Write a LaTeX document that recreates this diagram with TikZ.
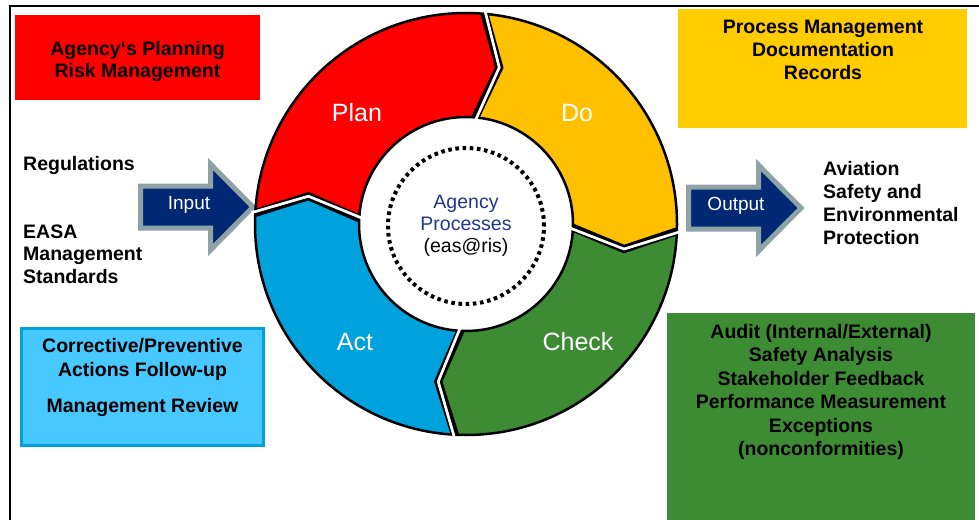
\documentclass[tikz,border=0pt]{standalone}
\usepackage{fontspec}
\setmainfont{Liberation Sans}
\usetikzlibrary{positioning}
\definecolor{planred}{RGB}{255,0,0}
\definecolor{doyellow}{RGB}{255,192,0}
\definecolor{checkgreen}{RGB}{61,139,51}
\definecolor{actblue}{RGB}{0,162,222}
\definecolor{boxyellow}{RGB}{255,204,0}
\definecolor{boxblue}{RGB}{71,200,255}
\definecolor{arrownavy}{RGB}{0,40,115}
\definecolor{arrowgrey}{RGB}{143,163,166}
\definecolor{procblue}{RGB}{31,56,140}

\tikzset{
  boldtxt/.style={font=\bfseries\fontsize{19.5}{23}\selectfont, align=center, inner sep=0pt},
  pdcatxt/.style={font=\fontsize{25}{30}\selectfont, text=white, inner sep=0pt},
  arrowtxt/.style={font=\fontsize{19}{22}\selectfont, text=white, inner sep=0pt},
  blockarrow/.style={fill=arrownavy, draw=arrowgrey, line width=5pt},
}

\begin{document}
\begin{tikzpicture}[x=1pt, y=-1pt]
  \useasboundingbox (0,0) rectangle (979,519);
  \clip (0,0) rectangle (979,519);

  % frame
  \draw[line width=2pt] (10,530) |- (990,6);

  % side boxes
  \fill[planred] (15,15) rectangle (260,100);
  \fill[boxyellow] (678,9) rectangle (967,128);
  \draw[actblue, fill=boxblue, line width=3pt] (21.5,328.5) rectangle (263.5,445.5);
  \fill[checkgreen] (667,313) rectangle (975,530);

  \node[boldtxt, font=\bfseries\fontsize{19.5}{22}\selectfont] (risk) at (137.5,62) {Agency‘s Planning\\Risk Management};
  \node[boldtxt] (procmgmt) at (823,50) {Process Management\\Documentation\\Records};
  \node[boldtxt, font=\bfseries\fontsize{19.5}{23.4}\selectfont] (audit) at (821,392)
    {Audit (Internal/External)\\Safety Analysis\\Stakeholder Feedback\\Performance Measurement\\Exceptions\\(nonconformities)};
  \node[boldtxt, font=\bfseries\fontsize{19.5}{24}\selectfont] (corrective) at (142.5,377)
    {Corrective/Preventive\\Actions Follow-up\\[12pt]Management Review};

  \node[boldtxt, anchor=west] (regs) at (23,165) {Regulations};
  \node[boldtxt, anchor=west, align=left, font=\bfseries\fontsize{19.5}{22.5}\selectfont] (easa) at (23,254)
    {EASA\\Management\\Standards};
  \node[boldtxt, anchor=west, align=left, font=\bfseries\fontsize{19.5}{23.3}\selectfont] (aviation) at (823,203)
    {Aviation\\Safety and\\Environmental\\Protection};

  % input / output arrows
  \draw[blockarrow] (140.5,186) -- (210.5,186) -- (210.5,164) -- (253,207)
    -- (210.5,250) -- (210.5,228) -- (140.5,228) -- cycle;
  \begin{scope}[shift={(548,1)}]
    \draw[blockarrow] (140.5,186) -- (210.5,186) -- (210.5,164) -- (253,207)
      -- (210.5,250) -- (210.5,228) -- (140.5,228) -- cycle;
  \end{scope}
  \node[arrowtxt] (input) at (189,205) {Input};
  \node[arrowtxt] (output) at (736,206) {Output};

  % PDCA wheel
  \begin{scope}[shift={(466,224)}, x=1pt, y=1pt]
    \foreach \tail/\head/\col in {177/85/planred, 85/-2/doyellow, 358/267/checkgreen, 267/177/actblue}
      \fill[\col] (\tail:211) arc[start angle=\tail, end angle=\head, radius=211]
        -- (\head-7:160) -- (\head:107) arc[start angle=\head, end angle=\tail, radius=107]
        -- (\tail-7:160) -- cycle;
    \foreach \b in {85,-2,267,177}
      \draw[line width=8pt] (\b:211) -- (\b-7:160) -- (\b:107);
    \draw[line width=2.5pt] (0,0) circle[radius=211];
    \draw[line width=2.5pt] (0,0) circle[radius=107];
    \foreach \b in {85,-2,267,177}
      \draw[white, line width=2.7pt] (\b:215) -- (\b-7:160) -- (\b:103);

    \draw[line width=4pt, dash pattern=on 3.6pt off 3.6pt] (0,-2) circle[radius=78];
    \node[font=\fontsize{19.5}{22}\selectfont, align=center, inner sep=0pt] (core) at (0,-2)
      {{\color{procblue}Agency}\\{\color{procblue}Processes}\\(eas@ris)};

    \node[pdcatxt] (plan) at (-109,111) {Plan};
    \node[pdcatxt] (do) at (111,111) {Do};
    \node[pdcatxt] (act) at (-111,-118) {Act};
    \node[pdcatxt] (check) at (112,-118) {Check};
  \end{scope}
\end{tikzpicture}
\end{document}
